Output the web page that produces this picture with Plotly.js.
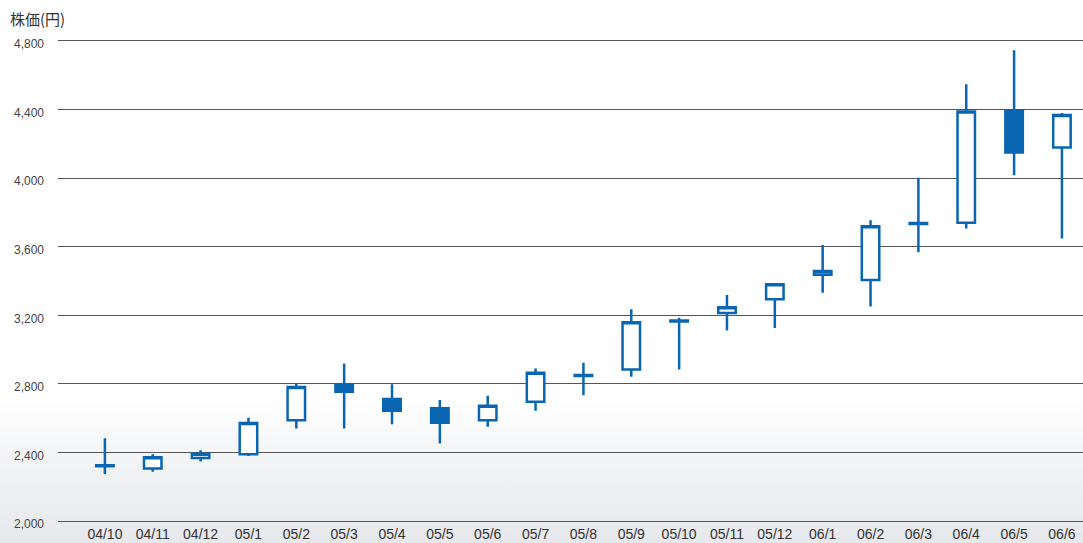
<!DOCTYPE html>
<html>
<head>
<meta charset="utf-8">
<script src="https://cdn.plot.ly/plotly-3.0.1.min.js"></script>
<style>
html,body{margin:0;padding:0;}
body{width:1083px;height:543px;background:linear-gradient(to bottom,#ffffff 0px,#ffffff 400px,#f1f2f4 470px,#e6e8eb 543px);}
#chart{width:1083px;height:543px;}
</style>
</head>
<body>
<div id="chart"></div>
<script>
const categories = ["04/10","04/11","04/12","05/1","05/2","05/3","05/4","05/5","05/6","05/7","05/8","05/9","05/10","05/11","05/12","06/1","06/2","06/3","06/4","06/5","06/6"];
const openVals  = [2326,2307,2369,2391,2589,2793,2712,2659,2589,2696,2853,2885,3170,3213,3294,3437,3406,3738,3739,4391,4178];
const highVals  = [2484,2391,2414,2603,2803,2920,2799,2706,2731,2890,2923,3235,3186,3318,3381,3610,3754,4002,4547,4745,4379];
const lowVals   = [2275,2288,2348,2380,2541,2541,2566,2453,2551,2644,2735,2842,2885,3112,3126,3332,3252,3567,3706,4016,3647];
const closeVals = [2320,2373,2393,2572,2782,2754,2644,2574,2673,2865,2847,3159,3164,3247,3381,3458,3719,3732,4387,4148,4367];
const yTicks = [2000,2400,2800,3200,3600,4000,4400,4800];

const blue = "#0a66b2";
const trace = {
  type: "candlestick",
  x: categories,
  open: openVals, high: highVals, low: lowVals, close: closeVals,
  increasing: {line: {color: blue, width: 2.5}, fillcolor: "#ffffff"},
  decreasing: {line: {color: blue, width: 2.5}, fillcolor: blue},
  whiskerwidth: 0,
  hoverinfo: "skip"
};

const layout = {
  width: 1083, height: 543,
  margin: {l: 58, r: 0, t: 39, b: 20, pad: 0},
  paper_bgcolor: "rgba(0,0,0,0)",
  plot_bgcolor: "rgba(0,0,0,0)",
  showlegend: false,
  boxgap: 0.635,
  boxgroupgap: 0,
  font: {family: "Liberation Sans, Arial, sans-serif", color: "#333"},
  xaxis: {
    type: "category",
    range: [-0.98, 20.44],
    rangeslider: {visible: false},
    showgrid: false, zeroline: false, showline: false,
    ticks: "", tickfont: {size: 14, color: "#333"},
    ticklabelstandoff: 1,
    fixedrange: true
  },
  yaxis: {
    range: [1990, 4810],
    tickvals: yTicks,
    tickformat: ",d",
    showgrid: true, gridcolor: "#555", gridwidth: 1,
    zeroline: false, showline: false,
    ticks: "", tickfont: {size: 12, color: "#444"},
    ticklabelstandoff: 13,
    ticklabelshift: 3,
    fixedrange: true
  },
  annotations: [{
    text: "株価(円)", xref: "paper", yref: "paper",
    x: -58/1025, y: 1, xanchor: "left", yanchor: "bottom",
    xshift: 8, yshift: 8, showarrow: false,
    font: {family: "Noto Sans CJK JP, sans-serif", size: 15, color: "#333"}
  }]
};

Plotly.newPlot("chart", [trace], layout, {displayModeBar: false, staticPlot: true});
</script>
</body>
</html>
